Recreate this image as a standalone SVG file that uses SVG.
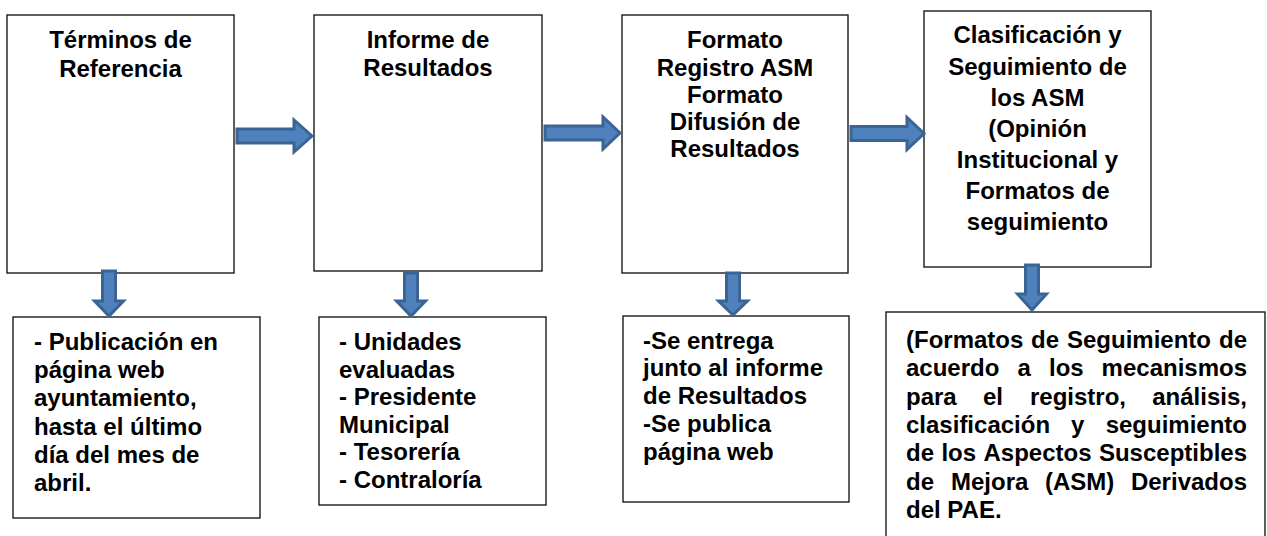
<svg xmlns="http://www.w3.org/2000/svg" width="1267" height="536" viewBox="0 0 1267 536">
<style>
.box{fill:#fff;stroke:#1a1a1a;stroke-width:1.4}
.arr{fill:#4F81BD;stroke:#3A6494;stroke-width:3;stroke-linejoin:miter}
text{font-family:"Liberation Sans",Arial,sans-serif;font-weight:bold;font-size:24px;fill:#000}
.c{text-anchor:middle}
.e{text-anchor:end}
</style>
<rect width="1267" height="536" fill="#fff"/>
<g id="n1"><rect class="box" x="7" y="15" width="227" height="258"/>
<text class="c" x="120.5" y="48">Términos de</text><text class="c" x="120.5" y="77">Referencia</text></g>
<g id="n2"><rect class="box" x="314" y="15" width="228" height="256"/>
<text class="c" x="428" y="48">Informe de</text><text class="c" x="428" y="76">Resultados</text></g>
<g id="n3"><rect class="box" x="622" y="15" width="226" height="258"/>
<text class="c" x="735" y="48">Formato</text><text class="c" x="735" y="76">Registro ASM</text><text class="c" x="735" y="103">Formato</text><text class="c" x="735" y="130">Difusión de</text><text class="c" x="735" y="157">Resultados</text></g>
<g id="n4"><rect class="box" x="924" y="11" width="227" height="256"/>
<text class="c" x="1037.5" y="43">Clasificación y</text><text class="c" x="1037.5" y="75">Seguimiento de</text><text class="c" x="1037.5" y="106">los ASM</text><text class="c" x="1037.5" y="137">(Opinión</text><text class="c" x="1037.5" y="168">Institucional y</text><text class="c" x="1037.5" y="199">Formatos de</text><text class="c" x="1037.5" y="230">seguimiento</text></g>
<g id="b1"><rect class="box" x="13" y="317" width="247" height="201"/>
<text x="34" y="350">- Publicación en</text><text x="34" y="378">página web</text><text x="34" y="406">ayuntamiento,</text><text x="34" y="435">hasta el último</text><text x="34" y="463">día del mes de</text><text x="34" y="491">abril.</text></g>
<g id="b2"><rect class="box" x="319" y="317" width="227" height="188"/>
<text x="339" y="350">- Unidades</text><text x="339" y="378">evaluadas</text><text x="339" y="405">- Presidente</text><text x="339" y="433">Municipal</text><text x="339" y="460">- Tesorería</text><text x="339" y="488">- Contraloría</text></g>
<g id="b3"><rect class="box" x="623" y="316" width="226" height="186"/>
<text x="643" y="349">-Se entrega</text><text x="643" y="376">junto al informe</text><text x="643" y="404">de Resultados</text><text x="643" y="432">-Se publica</text><text x="643" y="460">página web</text></g>
<g id="b4"><rect class="box" x="886" y="312" width="379" height="240"/>
<text x="906" y="348">(Formatos</text><text x="1031" y="348">de</text><text x="1067" y="348">Seguimiento</text><text class="e" x="1247" y="348">de</text>
<text x="906" y="376">acuerdo</text><text x="1017.5" y="376">a</text><text x="1049" y="376">los</text><text class="e" x="1247" y="376">mecanismos</text>
<text x="906" y="405">para</text><text x="983" y="405">el</text><text x="1030" y="405">registro,</text><text class="e" x="1247" y="405">análisis,</text>
<text x="906" y="433">clasificación</text><text x="1071" y="433">y</text><text class="e" x="1247" y="433">seguimiento</text>
<text x="906" y="461">de</text><text x="941.4" y="461">los</text><text x="983.5" y="461">Aspectos</text><text class="e" x="1247" y="461">Susceptibles</text>
<text x="906" y="490">de</text><text x="951" y="490">Mejora</text><text x="1045" y="490">(ASM)</text><text class="e" x="1247" y="490">Derivados</text>
<text x="906" y="518">del PAE.</text></g>
<g id="connectors">
<path class="arr" d="M237,129 H294 V120 L312,136 L294,152 V143 H237 Z"/>
<path class="arr" d="M545,126 H603 V117 L620,133 L603,149 V140 H545 Z"/>
<path class="arr" d="M851,126.5 H907 V117.5 L924,133.5 L907,149.5 V140.5 H851 Z"/>
<path class="arr" d="M102.5,271 V301 H94.5 L109,316 L123.5,301 H115.5 V271 Z"/>
<path class="arr" d="M404.5,273 V301 H396.5 L411,316 L425.5,301 H417.5 V273 Z"/>
<path class="arr" d="M726.5,273 V301 H718.5 L733,315 L747.5,301 H739.5 V273 Z"/>
<path class="arr" d="M1025.5,265 V294 H1017.5 L1032,310 L1046.5,294 H1038.5 V265 Z"/>
</g>
</svg>
